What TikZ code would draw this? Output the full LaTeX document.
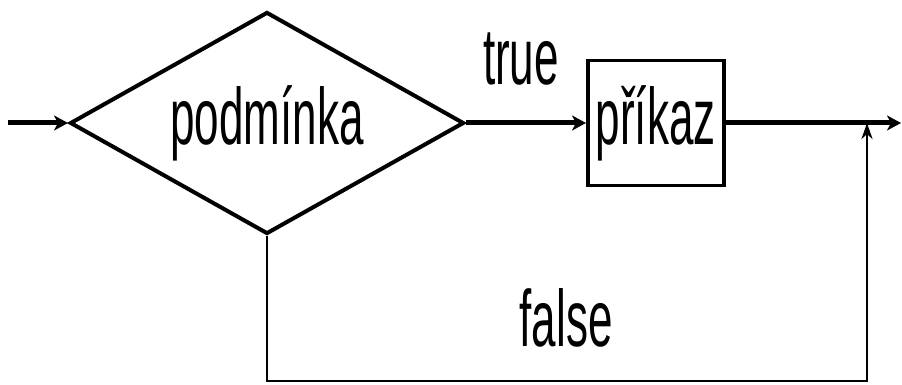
\documentclass[tikz,border=0pt]{standalone}
\usepackage{fontspec}
\newfontfamily\narrowsf[FakeStretch=0.55]{Liberation Sans}
\usetikzlibrary{positioning, shapes.geometric, arrows.meta}

\begin{document}
\begin{tikzpicture}[x=1pt, y=-1pt, font=\narrowsf\fontsize{80}{80}\selectfont]
    \tikzset{
      lbl/.style={inner sep=0pt},
      txt/.style={text height=60pt, text depth=17pt},
      cond/.style={diamond, aspect=1.77, draw, line width=4pt, inner sep=0pt, txt,
        minimum width=394pt, minimum height=222pt},
      cmdbox/.style={draw, line width=3.5pt, inner sep=0pt, txt,
        minimum width=136pt, minimum height=125pt},
      flow/.style={line width=5pt, -{Stealth[length=14pt, width=15pt, inset=4pt]}},
      back/.style={line width=2.5pt, -{Stealth[length=16pt, width=11pt, inset=5pt]}}
    }
    \useasboundingbox (0,0) rectangle (902,385);
    \node[cond] (c) at (267,123) {podmínka};
    \node[cmdbox, right=120pt of c] (p) {příkaz};
    \coordinate (in) at (8,123);
    \coordinate (out) at (901,123);
    \coordinate (j) at (867,123);
    \node[lbl, anchor=base] (t) at (521,85) {true};
    \node[lbl, anchor=base] (f) at (566,346) {false};
    \draw[flow] (in) -- (c.west);
    \draw[flow] (c.east) -- (p.west);
    \draw[flow] (p.east) -- (out);
    \draw[back] (c.south) -- (c.south |- 0,381) -| (j);
\end{tikzpicture}
\end{document}
